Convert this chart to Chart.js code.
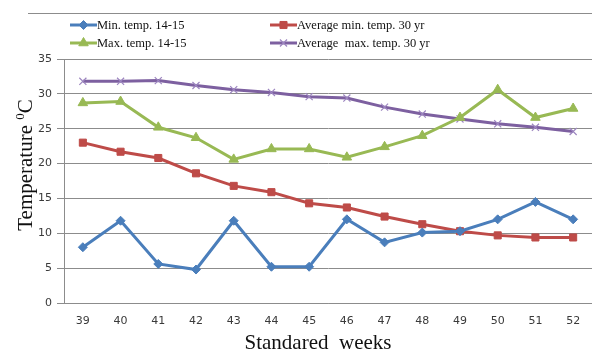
<!DOCTYPE html>
<html><head><meta charset="utf-8">
<script src="https://cdn.jsdelivr.net/npm/chart.js@4/dist/chart.umd.min.js"></script>
<style>html,body{margin:0;padding:0;background:#fff}#wrap{width:592px;height:352px;position:relative}</style>
</head><body><div id="wrap"><canvas id="c" width="592" height="352"></canvas></div>
<script>
const weeks = ["39","40","41","42","43","44","45","46","47","48","49","50","51","52"];
const minTemp = [8.0,11.8,5.6,4.8,11.8,5.2,5.2,12.0,8.7,10.1,10.3,12.0,14.5,12.0];
const avgMin30 = [23.0,21.7,20.8,18.6,16.8,15.9,14.3,13.7,12.4,11.3,10.3,9.7,9.4,9.4];
const maxTemp = [28.7,28.9,25.2,23.7,20.6,22.1,22.1,20.9,22.4,24.0,26.6,30.6,26.6,27.9];
const avgMax30 = [31.8,31.8,31.9,31.2,30.6,30.2,29.6,29.4,28.1,27.1,26.4,25.7,25.2,24.6];
const seriesNames = ["Min. temp. 14-15","Average min. temp. 30 yr","Max. temp. 14-15","Average  max. temp. 30 yr"];
const yTicks = [0,5,10,15,20,25,30,35];
const xTitle = "Standared  weeks";
const yTitleParts = ["Temperature ", "0", "C"];

const legendPos = [[70,25],[270,25],[70,43],[270,43]];
const customLegend = {
  id:'customLegend',
  afterDraw(chart){
    const ctx = chart.ctx;
    ctx.save();
    // outer chart border (top)
    ctx.strokeStyle = '#8c8c8c'; ctx.lineWidth = 1;
    ctx.beginPath(); ctx.moveTo(28,13.5); ctx.lineTo(592,13.5); ctx.stroke();
    chart.data.datasets.forEach((ds,i)=>{
      const [x,y] = legendPos[i];
      ctx.strokeStyle = ds.borderColor; ctx.lineWidth = 3;
      ctx.beginPath(); ctx.moveTo(x,y); ctx.lineTo(x+27,y); ctx.stroke();
      ctx.fillStyle = ds.pointBackgroundColor; ctx.strokeStyle = ds.pointBorderColor;
      ctx.lineWidth = ds.pointBorderWidth||1;
      Chart.helpers.drawPoint(ctx,{pointStyle:ds.pointStyle,radius:ds.pointRadius,borderWidth:ds.pointBorderWidth||1},x+13.5,y);
      ctx.fillStyle = '#111';
      ctx.font = '12.5px "Liberation Serif"';
      ctx.textBaseline = 'middle'; ctx.textAlign = 'left';
      ctx.fillText(ds.label, x+27, y+1);
    });
    // axis titles
    ctx.fillStyle = '#111';
    ctx.textBaseline = 'alphabetic';
    ctx.font = '21px "Liberation Serif"';
    ctx.textAlign = 'center';
    ctx.fillText(xTitle, 318, 349);
    // y title rotated with superscript
    const big = '21px "Liberation Serif"', small = '13px "Liberation Serif"';
    ctx.font = big; const w0 = ctx.measureText(yTitleParts[0]).width;
    const w2 = ctx.measureText(yTitleParts[2]).width;
    ctx.font = small; const w1 = ctx.measureText(yTitleParts[1]).width;
    const total = w0+w1+w2;
    ctx.translate(32,165); ctx.rotate(-Math.PI/2);
    ctx.textAlign = 'left';
    let x = -total/2;
    ctx.font = big; ctx.fillText(yTitleParts[0], x, 0); x += w0;
    ctx.font = small; ctx.fillText(yTitleParts[1], x, -8); x += w1;
    ctx.font = big; ctx.fillText(yTitleParts[2], x, 0);
    ctx.restore();
  }
};

function mk(label,data,color,style,radius,ptColor,bw){
  return {label,data,borderColor:color,backgroundColor:color,borderWidth:3,
    pointStyle:style,pointRadius:radius,pointBackgroundColor:ptColor||color,pointBorderColor:ptColor||color,
    pointBorderWidth:bw||1,tension:0};
}

new Chart(document.getElementById('c'),{
  type:'line',
  data:{labels:weeks,datasets:[
    mk(seriesNames[0],minTemp,'#4A7EBB','rectRot',4.5),
    mk(seriesNames[1],avgMin30,'#BE4B48','rect',5),
    mk(seriesNames[2],maxTemp,'#98B954','triangle',5.5),
    mk(seriesNames[3],avgMax30,'#7D60A0','crossRot',5,'#9d86c0',1.2)
  ]},
  options:{
    responsive:false,animation:false,
    layout:{autoPadding:false,padding:{top:59,left:0,right:0,bottom:0}},
    plugins:{legend:{display:false},tooltip:{enabled:false}},
    scales:{
      x:{offset:true,
        grid:{display:false,drawTicks:false},
        border:{display:true,color:'#8c8c8c',width:1},
        ticks:{padding:12,color:'#3a3a3a',font:{family:'DejaVu Sans',size:11}},
        afterFit(s){s.height=49;s.paddingLeft=0;s.paddingRight=0;}
      },
      y:{min:0,max:35,
        afterBuildTicks(s){s.ticks=yTicks.map(v=>({value:v}));},
        grid:{color:'#8c8c8c',lineWidth:1,tickLength:7,drawTicks:true},
        border:{display:true,color:'#8c8c8c',width:1},
        ticks:{padding:5,color:'#3a3a3a',font:{family:'DejaVu Sans',size:11}},
        afterFit(s){s.width=64;}
      }
    }
  },
  plugins:[customLegend]
});
</script></body></html>
